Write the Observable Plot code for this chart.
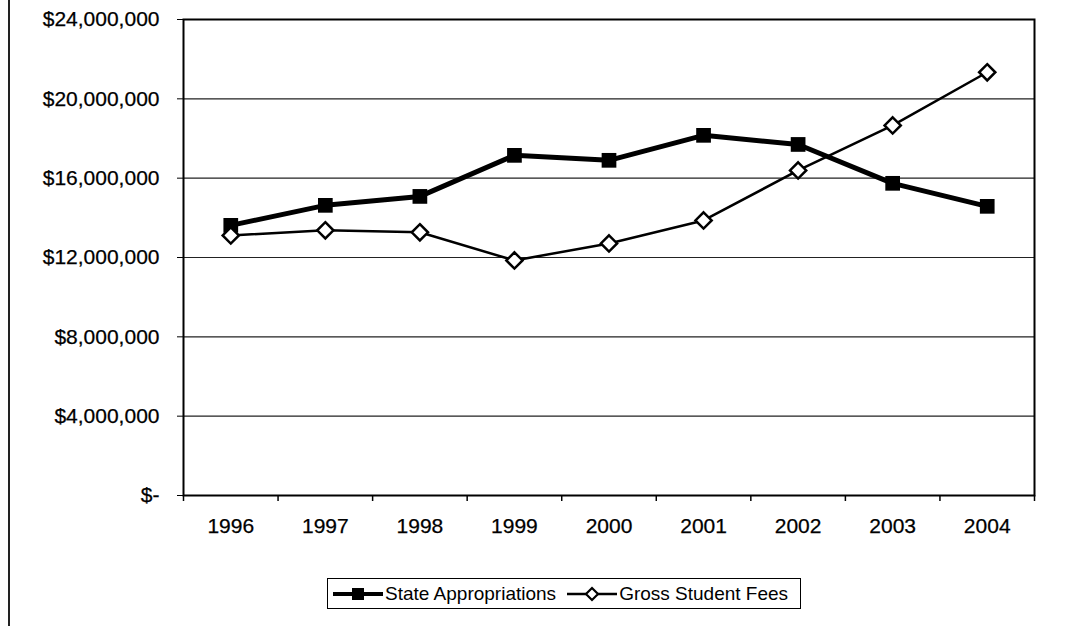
<!DOCTYPE html>
<html>
<head>
<meta charset="utf-8">
<script src="https://cdn.jsdelivr.net/npm/d3@7"></script>
<script src="https://cdn.jsdelivr.net/npm/@observablehq/plot@0.6"></script>
<style>
  body { margin: 0; background: #fff; font-family: "Liberation Sans", Arial, sans-serif; }
  #wrap { position: relative; width: 1080px; height: 626px; overflow: hidden; background: #fff; }
  #edge { position: absolute; left: 8px; top: 0; width: 0; height: 626px; border-left: 2px solid #222; }
  #legend { position: absolute; left: 327px; top: 578px; width: 472px; height: 29px;
            border: 1.5px solid #000; display: flex; align-items: center; font-size: 19px;
            color: #000; white-space: nowrap; box-sizing: content-box; }
  #legend .item { display: flex; align-items: center; }
  #legend svg { display: block; }
  #chart svg text { stroke: #000; stroke-width: 0.25px; }
</style>
</head>
<body>
<div id="wrap">
  <div id="chart"></div>
  <div id="edge"></div>
  <div id="legend"></div>
</div>
<script>
const years = [1996, 1997, 1998, 1999, 2000, 2001, 2002, 2003, 2004];
const stateAppropriations = [13620000, 14630000, 15080000, 17150000, 16900000, 18160000, 17700000, 15740000, 14580000];
const grossStudentFees = [13110000, 13370000, 13270000, 11850000, 12710000, 13870000, 16390000, 18660000, 21340000];
const seriesNames = ["State Appropriations", "Gross Student Fees"];
const yTicks = [0, 4000000, 8000000, 12000000, 16000000, 20000000, 24000000];
const gridValues = [4000000, 8000000, 12000000, 16000000, 20000000];
const yearBoundaries = [1995.5, 1996.5, 1997.5, 1998.5, 1999.5, 2000.5, 2001.5, 2002.5, 2003.5, 2004.5];

const stateData = years.map((y, i) => ({year: y, value: stateAppropriations[i]}));
const feesData = years.map((y, i) => ({year: y, value: grossStudentFees[i]}));

const fmtMoney = d => d === 0 ? "$-" : "$" + d3.format(",")(d);

const chart = Plot.plot({
  width: 1080,
  height: 626,
  marginLeft: 183,
  marginRight: 46,
  marginTop: 19,
  marginBottom: 131,
  style: { fontFamily: "Liberation Sans, Arial, sans-serif", fontSize: "21px", color: "#000", background: "#fff" },
  x: { domain: [1995.5, 2004.5] },
  y: { domain: [0, 24000000] },
  marks: [
    Plot.ruleY(gridValues, { stroke: "#222", strokeWidth: 1.2 }),
    Plot.frame({ stroke: "#000", strokeWidth: 2 }),
    Plot.axisY({ ticks: yTicks, tickFormat: fmtMoney, tickSize: 6, tickPadding: 18, label: null, fontSize: 21 }),
    Plot.axisX({ ticks: years, tickFormat: d => String(d), tickSize: 0, tickPadding: 23, label: null, fontSize: 21 }),
    Plot.axisX({ ticks: yearBoundaries, tickFormat: () => "", tickSize: 6, label: null, strokeWidth: 1.5 }),
    Plot.line(stateData, { x: "year", y: "value", stroke: "#000", strokeWidth: 5 }),
    Plot.dot(stateData, { x: "year", y: "value", symbol: "square", r: 8.3, fill: "#000", stroke: "none" }),
    Plot.line(feesData, { x: "year", y: "value", stroke: "#000", strokeWidth: 2.5 }),
    Plot.dot(feesData, { x: "year", y: "value", symbol: "diamond2", r: 7.3, fill: "#fff", stroke: "#000", strokeWidth: 2.5 })
  ]
});
document.getElementById("chart").appendChild(chart);

// Legend
const legend = document.getElementById("legend");
function swatch(kind) {
  const ns = "http://www.w3.org/2000/svg";
  const svg = document.createElementNS(ns, "svg");
  svg.setAttribute("width", 50);
  svg.setAttribute("height", 20);
  const line = document.createElementNS(ns, "line");
  line.setAttribute("x1", 0); line.setAttribute("x2", 50);
  line.setAttribute("y1", 10); line.setAttribute("y2", 10);
  line.setAttribute("stroke", "#000");
  line.setAttribute("stroke-width", kind === "square" ? 4 : 2.5);
  svg.appendChild(line);
  if (kind === "square") {
    const r = document.createElementNS(ns, "rect");
    r.setAttribute("x", 19); r.setAttribute("y", 4); r.setAttribute("width", 12); r.setAttribute("height", 12);
    r.setAttribute("fill", "#000");
    svg.appendChild(r);
  } else {
    const p = document.createElementNS(ns, "path");
    p.setAttribute("d", "M25,4 L31,10 L25,16 L19,10 Z");
    p.setAttribute("fill", "#fff"); p.setAttribute("stroke", "#000"); p.setAttribute("stroke-width", 2.2);
    svg.appendChild(p);
  }
  return svg;
}
const kinds = ["square", "diamond"];
seriesNames.forEach((name, i) => {
  const item = document.createElement("div");
  item.className = "item";
  item.style.marginLeft = i === 0 ? "5px" : "11px";
  const sw = swatch(kinds[i]);
  sw.style.marginRight = "2px";
  item.appendChild(sw);
  const t = document.createElement("span");
  t.textContent = name;
  item.appendChild(t);
  legend.appendChild(item);
});
</script>
</body>
</html>
